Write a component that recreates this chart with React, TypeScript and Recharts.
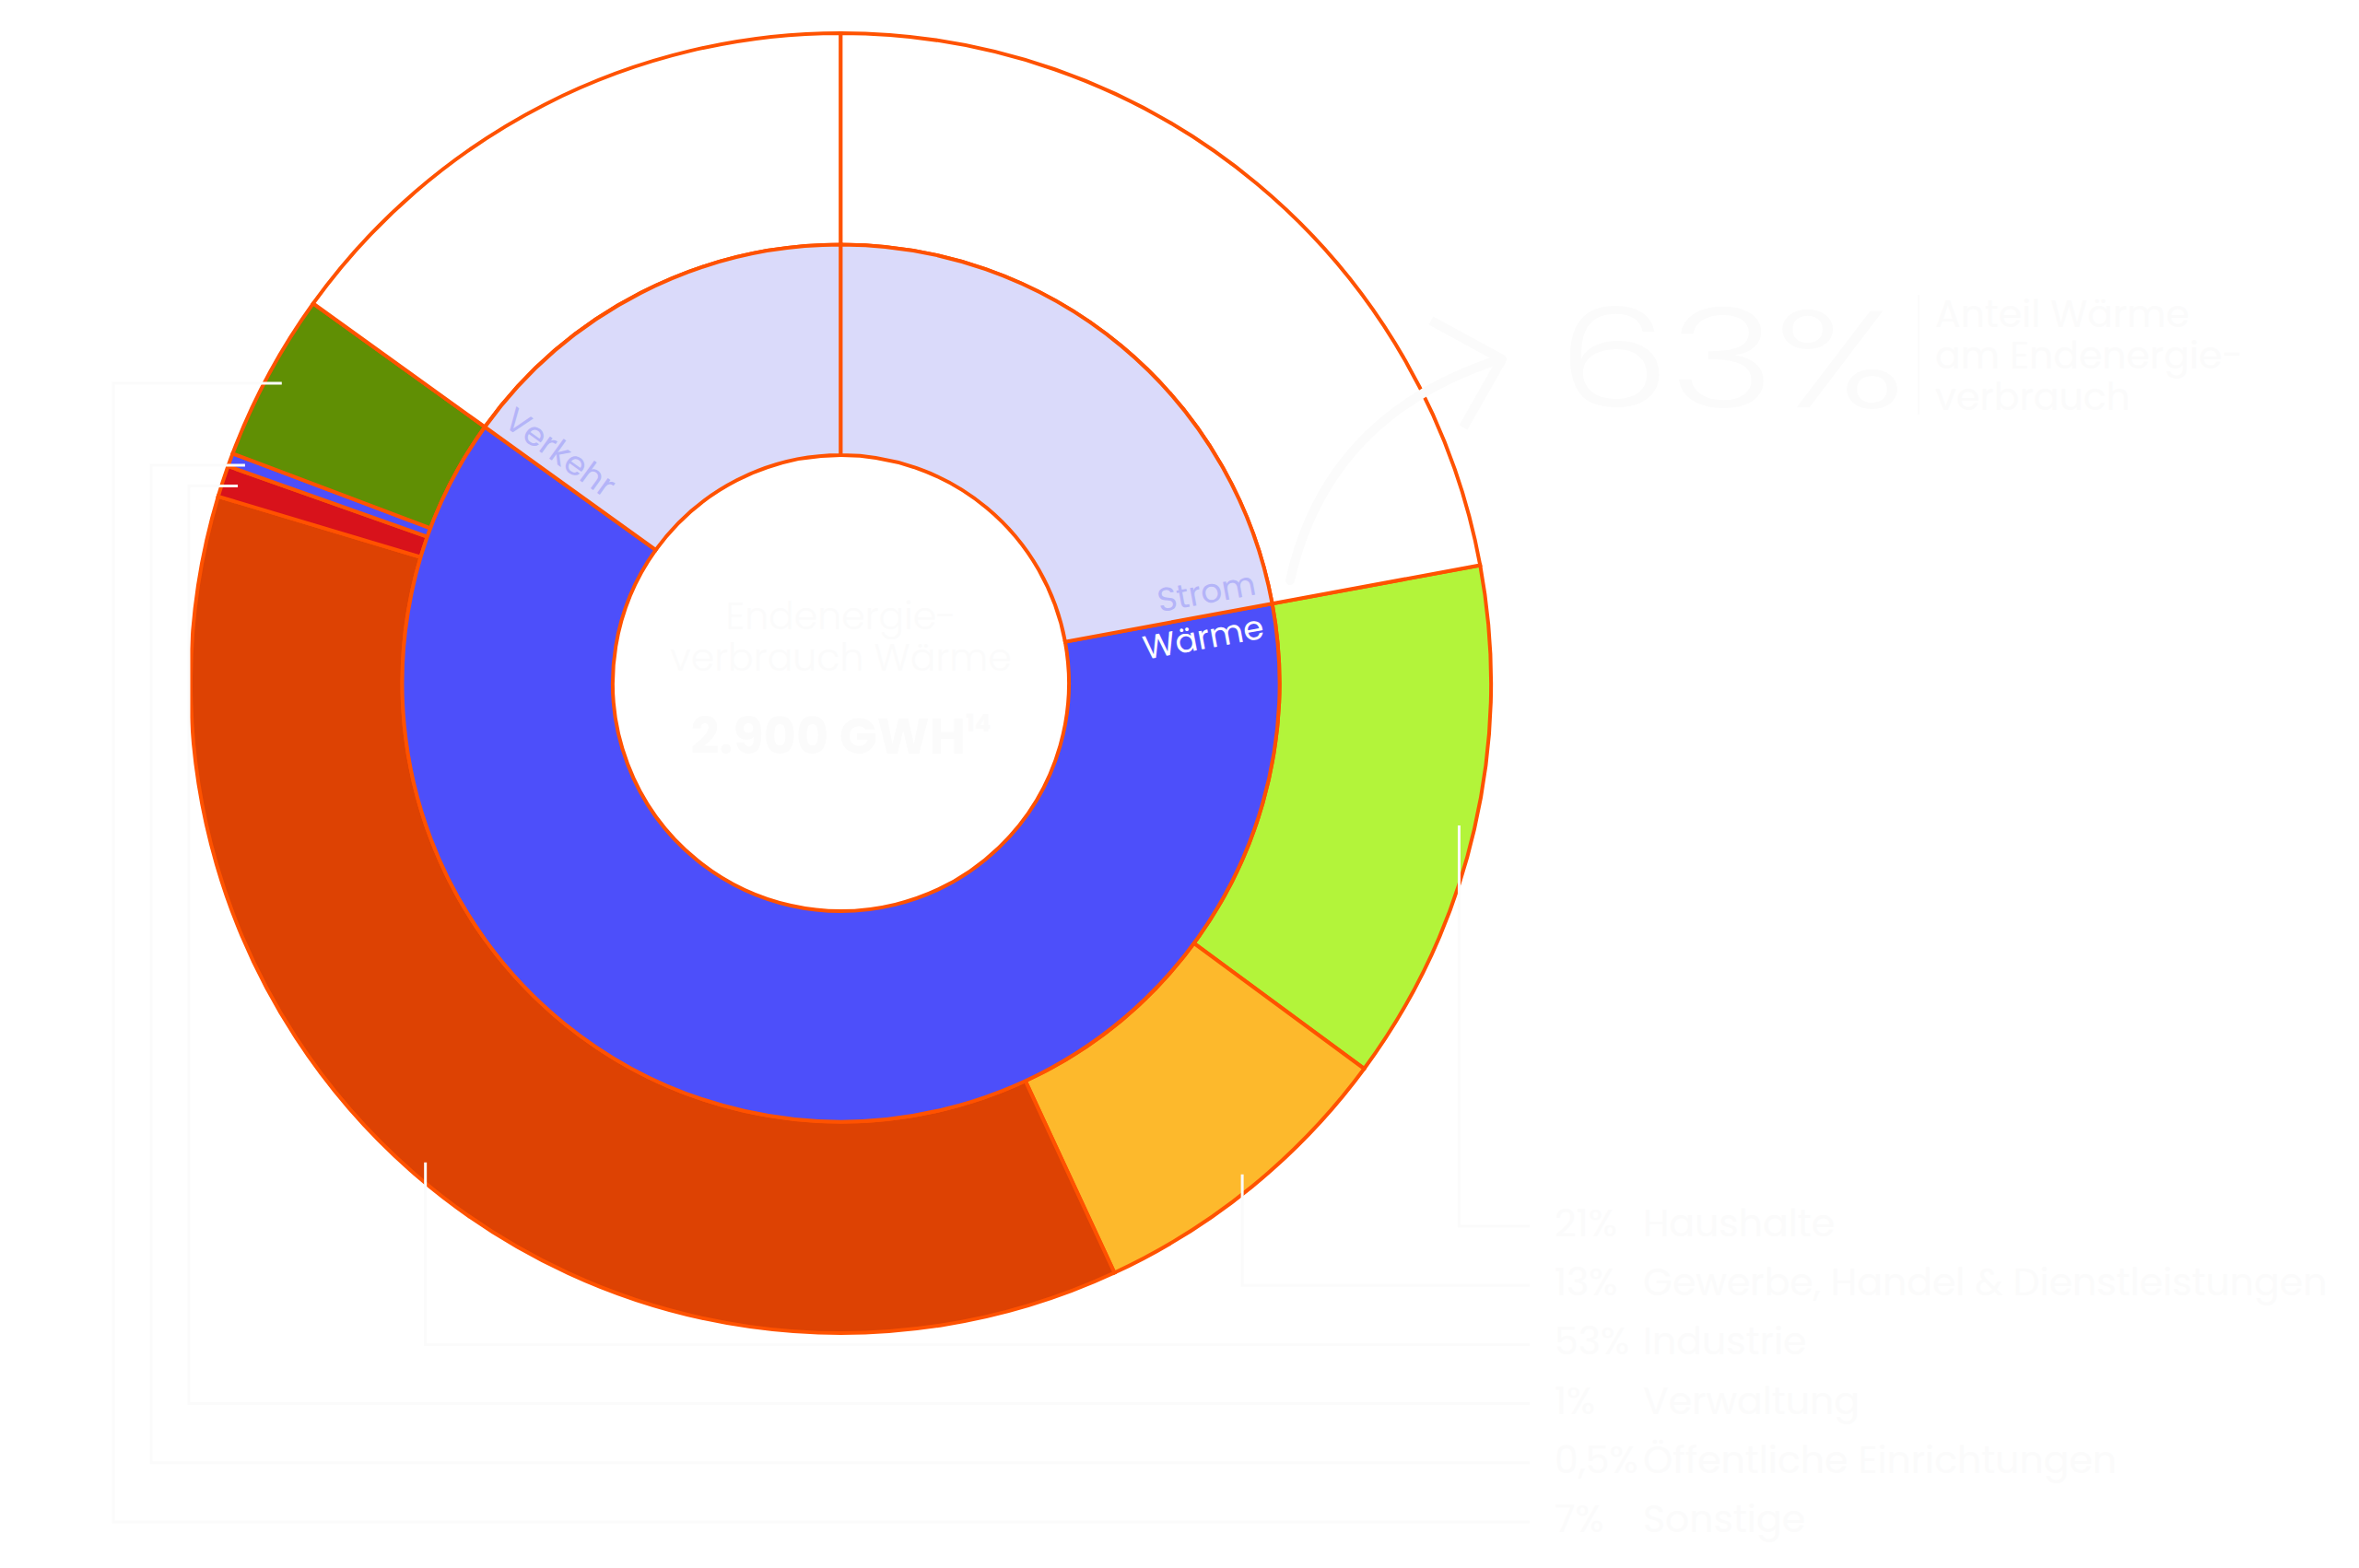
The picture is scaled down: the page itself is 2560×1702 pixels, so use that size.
import React from 'react';
import { PieChart, Pie, Cell } from 'recharts';

// inner ring: energy uses (share of total, %)
const innerNames = ['Wärme', 'Verkehr', 'Strom'];
const innerValues = [62.83, 15.07, 22.1];

// outer ring: heat consumers (share of total, %), Verkehr/Strom as blank slots
const outerNames = [
  'Haushalte',
  'Gewerbe, Handel & Dienstleistungen',
  'Industrie',
  'Verwaltung',
  'Öffentliche Einrichtungen',
  'Sonstige',
  'Verkehr',
  'Strom',
];
const outerValues = [13.01, 7.98, 36.55, 0.78, 0.33, 4.18, 15.07, 22.1];

// legend (shares within Wärme as printed)
const legendShares = ['21%', '13%', '53%', '1%', '0,5%', '7%'];
const legendNames = outerNames.slice(0, 6);

const headline = '63%';
const headlineText = ['Anteil Wärme', 'am Endenergie-', 'verbrauch'];
const centerLines = ['Endenergie-', 'verbrauch Wärme'];
const centerValue = '2.900 GWH';
const centerNote = '14';

const innerData = innerNames.map((name, i) => ({ name, value: innerValues[i] }));
const outerData = outerNames.map((name, i) => ({ name, value: outerValues[i] }));

const INNER_COLORS = ['#4d4ffa', '#dadafa', '#dadafa'];
const OUTER_COLORS = ['#b3f43a', '#fdb92c', '#dd4203', '#d8121b', '#4d4ffa', '#608f04', '#ffffff', '#ffffff'];
const EDGE = '#ff5200';
const GHOST = '#fbfbfb';
const FONT = "Poppins, 'Open Sans', sans-serif";

const CX = 912.5;
const CY = 741.5;
const START = 10.45;
const LEGEND_TOP = 1342;
const LEGEND_STEP = 64.2;
const LEADER_END = 1660;

const rad = (a: number) => (a * Math.PI) / 180;

const renderInnerLabel = (p: any) => {
  const { cx, cy, outerRadius, startAngle, endAngle, index } = p;
  const name = innerNames[index];
  const atStart = name !== 'Strom';
  const a = atStart ? startAngle : endAngle;
  const right = Math.cos(rad(a)) >= 0;
  const r = outerRadius - 14;
  const x = cx + r * Math.cos(rad(a));
  const y = cy - r * Math.sin(rad(a));
  const rot = right ? -a : 180 - a;
  const below = (right ? 1 : -1) * (atStart ? 1 : -1) > 0;
  return (
    <g key={`il-${index}`} transform={`translate(${x},${y}) rotate(${rot})`}>
      <text
        x={0}
        y={below ? 35 : -13}
        textAnchor={right ? 'end' : 'start'}
        fontFamily={FONT}
        fontSize={36}
        fill={name === 'Wärme' ? '#ffffff' : '#b4b4f8'}
      >
        {name}
      </text>
    </g>
  );
};

const renderLeader = (p: any) => {
  const { cx, cy, outerRadius, startAngle, endAngle, index } = p;
  if (index > 5) return null;
  const mid = p.midAngle ?? (startAngle + endAngle) / 2;
  const r0 = outerRadius - 17;
  const x0 = cx + r0 * Math.cos(rad(mid));
  const y0 = cy - r0 * Math.sin(rad(mid));
  const rowY = LEGEND_TOP + index * LEGEND_STEP - 11;
  let d;
  if (Math.sin(rad(mid)) < 0) {
    d = `M${x0},${y0} V${rowY} H${LEADER_END}`;
  } else {
    const lane = 205 - (index - 3) * 41;
    d = `M${x0},${y0} H${lane} V${rowY} H${LEADER_END}`;
  }
  return <path key={`ll-${index}`} d={d} fill="none" stroke={GHOST} strokeWidth={3} />;
};

const App: React.FC = () => {
  return (
    <div style={{ position: 'fixed', left: 0, top: 0, width: 2560, height: 1702, background: '#ffffff' }}>
      <PieChart width={2560} height={1702} margin={{ top: 0, right: 0, bottom: 0, left: 0 }}>
        <Pie
          data={outerData}
          dataKey="value"
          cx={CX}
          cy={CY}
          innerRadius={476}
          outerRadius={705.5}
          startAngle={START}
          endAngle={START - 360}
          stroke={EDGE}
          strokeWidth={4}
          label={renderLeader}
          labelLine={false}
          isAnimationActive={false}
        >
          {outerData.map((d, i) => (
            <Cell key={d.name + i} fill={OUTER_COLORS[i]} stroke={EDGE} strokeWidth={4} />
          ))}
        </Pie>
        <Pie
          data={innerData}
          dataKey="value"
          cx={CX}
          cy={CY}
          innerRadius={247.5}
          outerRadius={476}
          startAngle={START}
          endAngle={START - 360}
          stroke={EDGE}
          strokeWidth={4}
          label={renderInnerLabel}
          labelLine={false}
          isAnimationActive={false}
        >
          {innerData.map((d, i) => (
            <Cell key={d.name} fill={INNER_COLORS[i]} stroke={EDGE} strokeWidth={4} />
          ))}
        </Pie>
      </PieChart>

      <svg width={2560} height={1702} style={{ position: 'absolute', left: 0, top: 0, pointerEvents: 'none' }}>
        {/* arrow pointing to the headline */}
        <path d="M1400,630 Q1440,450 1628,390" fill="none" stroke={GHOST} strokeWidth={10} strokeLinecap="round" />
        <path d="M1553,348 L1630,390 L1588,464" fill="none" stroke={GHOST} strokeWidth={10} strokeLinejoin="round" />

        <text x={1690} y={442} fontFamily={FONT} fontSize={150} fontWeight={300} fill={GHOST} textLength={377} lengthAdjust="spacingAndGlyphs">
          {headline}
        </text>
        <line x1={2082} y1={320} x2={2082} y2={450} stroke={GHOST} strokeWidth={2} />
        {headlineText.map((t, i) => (
          <text key={t} x={2100} y={355 + i * 45} fontFamily={FONT} fontSize={41} fill={GHOST}>
            {t}
          </text>
        ))}

        {centerLines.map((t, i) => (
          <text key={t} x={CX} y={683 + i * 45} textAnchor="middle" fontFamily={FONT} fontSize={41} fontWeight={300} fill={GHOST}>
            {t}
          </text>
        ))}
        <text x={CX} y={818} textAnchor="middle" fontFamily={FONT} fontSize={54} fontWeight={700} fill={GHOST}>
          {centerValue}
          <tspan fontSize={26} dy={-24}>{centerNote}</tspan>
        </text>

        {legendNames.map((n, i) => (
          <g key={n}>
            <text x={1687} y={LEGEND_TOP + i * LEGEND_STEP} fontFamily={FONT} fontSize={41} fill={GHOST}>
              {legendShares[i]}
            </text>
            <text x={1783} y={LEGEND_TOP + i * LEGEND_STEP} fontFamily={FONT} fontSize={41} fill={GHOST}>
              {n}
            </text>
          </g>
        ))}
      </svg>
    </div>
  );
};

export default App;
